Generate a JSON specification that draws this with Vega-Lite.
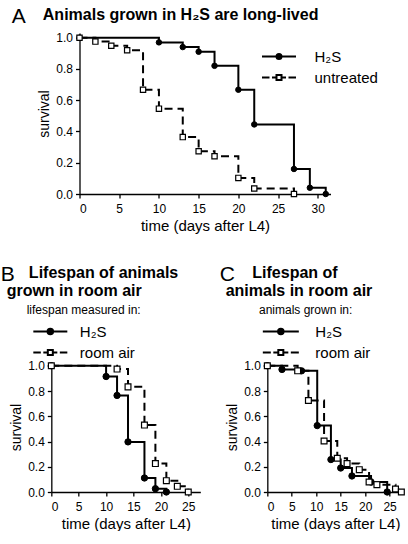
{
  "$schema": "https://vega.github.io/schema/vega-lite/v6.json",
  "background": "white",
  "padding": {"left": 0, "top": 5, "right": 0, "bottom": 0},
  "config": {
    "font": "Liberation Sans",
    "view": {"stroke": null},
    "axis": {"grid": false, "domainColor": "black", "domainWidth": 1.3, "tickColor": "black", "tickWidth": 1.3, "tickSize": 4, "labelFontSize": 12, "labelColor": "black", "titleFontSize": 15, "titleFontWeight": "normal", "titleColor": "black", "labelPadding": 3},
    "axisY": {"titleFontSize": 14, "titlePadding": 4},
    "axisX": {"labelPadding": 5, "titlePadding": 4},
    "legend": {"labelFontSize": 15, "labelColor": "black", "padding": 0, "symbolStrokeColor": "black", "symbolFillColor": "transparent", "symbolStrokeWidth": 2, "symbolOpacity": 1, "symbolSize": 100, "title": null},
    "title": {"anchor": "start", "color": "black", "subtitleColor": "black", "subtitleFont": "Liberation Sans", "font": "Liberation Sans"}
  },
  "datasets": {
    "a": [
      {"g": "H₂S", "t": 0, "s": 1}, {"g": "H₂S", "t": 10, "s": 0.97}, {"g": "H₂S", "t": 13, "s": 0.94}, {"g": "H₂S", "t": 15, "s": 0.91}, {"g": "H₂S", "t": 17, "s": 0.82}, {"g": "H₂S", "t": 20, "s": 0.667}, {"g": "H₂S", "t": 22, "s": 0.445}, {"g": "H₂S", "t": 27, "s": 0.16}, {"g": "H₂S", "t": 29, "s": 0.04}, {"g": "H₂S", "t": 31, "s": 0},
      {"g": "untreated", "t": 0, "s": 1}, {"g": "untreated", "t": 2, "s": 0.975}, {"g": "untreated", "t": 4, "s": 0.948}, {"g": "untreated", "t": 6, "s": 0.92}, {"g": "untreated", "t": 8, "s": 0.667}, {"g": "untreated", "t": 10, "s": 0.546}, {"g": "untreated", "t": 13, "s": 0.364}, {"g": "untreated", "t": 15, "s": 0.273}, {"g": "untreated", "t": 17, "s": 0.242}, {"g": "untreated", "t": 20, "s": 0.103}, {"g": "untreated", "t": 22, "s": 0.035}, {"g": "untreated", "t": 27, "s": 0}
    ],
    "b": [
      {"g": "H₂S", "t": 0, "s": 1}, {"g": "H₂S", "t": 10, "s": 0.915}, {"g": "H₂S", "t": 12, "s": 0.765}, {"g": "H₂S", "t": 14, "s": 0.397}, {"g": "H₂S", "t": 17, "s": 0.111}, {"g": "H₂S", "t": 19, "s": 0.026}, {"g": "H₂S", "t": 21, "s": 0},
      {"g": "room air", "t": 0, "s": 1}, {"g": "room air", "t": 12, "s": 0.974}, {"g": "room air", "t": 14, "s": 0.833}, {"g": "room air", "t": 17, "s": 0.53}, {"g": "room air", "t": 19, "s": 0.225}, {"g": "room air", "t": 21, "s": 0.09}, {"g": "room air", "t": 23, "s": 0.045}, {"g": "room air", "t": 25, "s": 0}
    ],
    "c": [
      {"g": "H₂S", "t": 0, "s": 1}, {"g": "H₂S", "t": 3, "s": 0.971}, {"g": "H₂S", "t": 7, "s": 0.96}, {"g": "H₂S", "t": 10.2, "s": 0.526}, {"g": "H₂S", "t": 13, "s": 0.257}, {"g": "H₂S", "t": 15, "s": 0.19}, {"g": "H₂S", "t": 17.3, "s": 0.127}, {"g": "H₂S", "t": 21.2, "s": 0.079}, {"g": "H₂S", "t": 24.5, "s": 0},
      {"g": "room air", "t": 0, "s": 1}, {"g": "room air", "t": 6.2, "s": 0.96}, {"g": "room air", "t": 8.4, "s": 0.725}, {"g": "room air", "t": 11.6, "s": 0.404}, {"g": "room air", "t": 14.3, "s": 0.267}, {"g": "room air", "t": 16.3, "s": 0.225}, {"g": "room air", "t": 18.8, "s": 0.177}, {"g": "room air", "t": 20.8, "s": 0.079}, {"g": "room air", "t": 22.4, "s": 0.058}, {"g": "room air", "t": 26.2, "s": 0.024}, {"g": "room air", "t": 27.4, "s": 0}
    ]
  },
  "spacing": 31,
  "center": true,
  "resolve": {"scale": {"shape": "independent"}, "legend": {"shape": "independent"}},
  "vconcat": [
    {
      "title": {"text": "A", "fontSize": 21, "fontWeight": "normal", "offset": -20, "dx": -26},
      "resolve": {"scale": {"shape": "independent"}, "legend": {"shape": "independent"}},
      "vconcat": [
        {
          "width": 251, "height": 161,
          "title": {"text": "Animals grown in H₂S are long-lived", "fontSize": 16, "fontWeight": "bold", "offset": 9, "dx": 5},
          "data": {"name": "a"},
          "encoding": {
            "x": {"field": "t", "type": "quantitative", "scale": {"domain": [0, 31.6], "nice": false}, "axis": {"values": [0, 5, 10, 15, 20, 25, 30], "title": "time (days after L4)"}},
            "y": {"field": "s", "type": "quantitative", "scale": {"domain": [0, 1.03], "nice": false}, "axis": {"values": [0, 0.2, 0.4, 0.6, 0.8, 1], "format": ".1f", "title": "survival"}}
          },
          "layer": [
            {
              "transform": [{"filter": "datum.g === 'H₂S'"}],
              "mark": {"type": "line", "interpolate": "step-after", "color": "black", "strokeWidth": 2}
            },
            {
              "transform": [{"filter": "datum.g !== 'H₂S'"}],
              "mark": {"type": "line", "interpolate": "step-after", "color": "black", "strokeWidth": 2, "strokeDash": [8, 5]}
            },
            {
              "transform": [{"filter": "datum.g === 'H₂S'"}],
              "mark": {"type": "point", "shape": "circle", "filled": true, "fill": "black", "stroke": "black", "strokeWidth": 1, "opacity": 1, "size": 30}
            },
            {
              "transform": [{"filter": "datum.g !== 'H₂S'"}],
              "mark": {"type": "point", "shape": "square", "filled": true, "fill": "white", "stroke": "black", "strokeWidth": 1.2, "opacity": 1, "size": 28}
            },
            {
              "transform": [{"filter": "datum.t < 0"}],
              "mark": {"type": "point", "filled": false, "stroke": "black", "strokeWidth": 2, "size": 100},
              "encoding": {
                "shape": {"field": "g", "type": "nominal", "scale": {"domain": ["H₂S", "untreated"], "range": ["M-3.4,0H3.4M0.5,0A0.5,0.5,0,1,1,-0.5,0A0.5,0.5,0,1,1,0.5,0M0.25,0A0.25,0.25,0,1,1,-0.25,0A0.25,0.25,0,1,1,0.25,0", "M-3.4,0H-1.9M-1.4,0H-0.6M0.6,0H1.4M1.9,0H3.4M-0.5,-0.5H0.5V0.5H-0.5Z"]},
                  "legend": {"orient": "none", "legendX": 192, "legendY": 16, "labelOffset": 28, "rowPadding": 5}}
              }
            },
            {
              "data": {"values": [{"label": "p<0.001"}]},
              "mark": {"type": "text", "align": "left", "baseline": "middle", "fontSize": 13, "color": "black"},
              "encoding": {"x": {"datum": 1, "type": "quantitative"}, "y": {"datum": 0.07, "type": "quantitative"}, "text": {"field": "label"}}
            }
          ]
        }
      ]
    },
    {
      "spacing": 19,
      "resolve": {"scale": {"shape": "independent"}, "legend": {"shape": "independent"}},
      "hconcat": [
        {
          "title": {"text": "B", "fontSize": 21, "fontWeight": "normal", "offset": -20, "dx": -6},
          "resolve": {"scale": {"shape": "independent"}, "legend": {"shape": "independent"}},
          "vconcat": [
            {
              "width": 149, "height": 130,
              "title": {"text": ["\u200b\u00a0\u00a0\u00a0\u00a0\u00a0Lifespan of animals", "grown in room air"], "fontSize": 16, "fontWeight": "bold", "lineHeight": 18, "dx": -3, "offset": 8,
                "subtitle": "\u200b\u00a0\u00a0\u00a0\u00a0\u00a0\u00a0lifespan measured in:", "subtitleFontSize": 12, "subtitlePadding": 6},
              "data": {"name": "b"},
              "encoding": {
                "x": {"field": "t", "type": "quantitative", "scale": {"domain": [0, 27.2], "nice": false}, "axis": {"values": [0, 5, 10, 15, 20, 25], "title": "time (days after L4)"}},
                "y": {"field": "s", "type": "quantitative", "scale": {"domain": [0, 1.03], "nice": false}, "axis": {"values": [0, 0.2, 0.4, 0.6, 0.8, 1], "format": ".1f", "title": "survival"}}
              },
              "layer": [
                {
                  "transform": [{"filter": "datum.g === 'H₂S'"}],
                  "mark": {"type": "line", "interpolate": "step-after", "color": "black", "strokeWidth": 2}
                },
                {
                  "transform": [{"filter": "datum.g !== 'H₂S'"}],
                  "mark": {"type": "line", "interpolate": "step-after", "color": "black", "strokeWidth": 2, "strokeDash": [8, 5]}
                },
                {
                  "transform": [{"filter": "datum.g === 'H₂S'"}],
                  "mark": {"type": "point", "shape": "circle", "filled": true, "fill": "black", "stroke": "black", "strokeWidth": 1, "opacity": 1, "size": 40}
                },
                {
                  "transform": [{"filter": "datum.g !== 'H₂S'"}],
                  "mark": {"type": "point", "shape": "square", "filled": true, "fill": "white", "stroke": "black", "strokeWidth": 1.2, "opacity": 1, "size": 34}
                },
                {
                  "transform": [{"filter": "datum.t < 0"}],
                  "mark": {"type": "point", "filled": false, "stroke": "black", "strokeWidth": 2, "size": 100},
                  "encoding": {
                    "shape": {"field": "g", "type": "nominal", "scale": {"domain": ["H₂S", "room air"], "range": ["M-3.4,0H3.4M0.55,0A0.55,0.55,0,1,1,-0.55,0A0.55,0.55,0,1,1,0.55,0M0.25,0A0.25,0.25,0,1,1,-0.25,0A0.25,0.25,0,1,1,0.25,0", "M-3.4,0H-1.9M-1.4,0H-0.6M0.6,0H1.4M1.9,0H3.4M-0.5,-0.5H0.5V0.5H-0.5Z"]},
                      "legend": {"orient": "none", "legendX": -8.5, "legendY": -38, "labelOffset": 22, "rowPadding": 5}}
                  }
                },
                {
                  "data": {"values": [{"label": "p<0.01"}]},
                  "mark": {"type": "text", "align": "left", "baseline": "middle", "fontSize": 13, "color": "black"},
                  "encoding": {"x": {"datum": 1.8, "type": "quantitative"}, "y": {"datum": 0.1, "type": "quantitative"}, "text": {"field": "label"}}
                }
              ]
            }
          ]
        },
        {
          "title": {"text": "C", "fontSize": 21, "fontWeight": "normal", "offset": -20, "dx": -6},
          "resolve": {"scale": {"shape": "independent"}, "legend": {"shape": "independent"}},
          "vconcat": [
            {
              "width": 136, "height": 130,
              "title": {"text": ["\u200b\u00a0\u00a0\u00a0\u00a0\u00a0\u00a0Lifespan of", "animals in room air"], "fontSize": 16, "fontWeight": "bold", "lineHeight": 18, "offset": 8,
                "subtitle": "\u200b\u00a0\u00a0\u00a0\u00a0\u00a0\u00a0\u00a0\u00a0\u00a0\u00a0animals grown in:", "subtitleFontSize": 12, "subtitlePadding": 6},
              "data": {"name": "c"},
              "encoding": {
                "x": {"field": "t", "type": "quantitative", "scale": {"domain": [0, 27.8], "nice": false}, "axis": {"values": [0, 5, 10, 15, 20, 25], "title": "time (days after L4)"}},
                "y": {"field": "s", "type": "quantitative", "scale": {"domain": [0, 1.03], "nice": false}, "axis": {"values": [0, 0.2, 0.4, 0.6, 0.8, 1], "format": ".1f", "title": "survival"}}
              },
              "layer": [
                {
                  "transform": [{"filter": "datum.g === 'H₂S'"}],
                  "mark": {"type": "line", "interpolate": "step-after", "color": "black", "strokeWidth": 2}
                },
                {
                  "transform": [{"filter": "datum.g !== 'H₂S'"}],
                  "mark": {"type": "line", "interpolate": "step-after", "color": "black", "strokeWidth": 2, "strokeDash": [8, 5]}
                },
                {
                  "transform": [{"filter": "datum.g === 'H₂S'"}],
                  "mark": {"type": "point", "shape": "circle", "filled": true, "fill": "black", "stroke": "black", "strokeWidth": 1, "opacity": 1, "size": 40}
                },
                {
                  "transform": [{"filter": "datum.g !== 'H₂S'"}],
                  "mark": {"type": "point", "shape": "square", "filled": true, "fill": "white", "stroke": "black", "strokeWidth": 1.2, "opacity": 1, "size": 34}
                },
                {
                  "transform": [{"filter": "datum.t < 0"}],
                  "mark": {"type": "point", "filled": false, "stroke": "black", "strokeWidth": 2, "size": 100},
                  "encoding": {
                    "shape": {"field": "g", "type": "nominal", "scale": {"domain": ["H₂S", "room air"], "range": ["M-3.6,0H3.6M0.55,0A0.55,0.55,0,1,1,-0.55,0A0.55,0.55,0,1,1,0.55,0M0.25,0A0.25,0.25,0,1,1,-0.25,0A0.25,0.25,0,1,1,0.25,0", "M-3.6,0H-2M-1.5,0H-0.6M0.6,0H1.5M2,0H3.6M-0.5,-0.5H0.5V0.5H-0.5Z"]},
                      "legend": {"orient": "none", "legendX": 6, "legendY": -38, "labelOffset": 27, "rowPadding": 5}}
                  }
                },
                {
                  "data": {"values": [{"label": "p>0.05"}]},
                  "mark": {"type": "text", "align": "left", "baseline": "middle", "fontSize": 13, "color": "black"},
                  "encoding": {"x": {"datum": 5.4, "type": "quantitative"}, "y": {"datum": 0.1, "type": "quantitative"}, "text": {"field": "label"}}
                }
              ]
            }
          ]
        }
      ]
    }
  ]
}
